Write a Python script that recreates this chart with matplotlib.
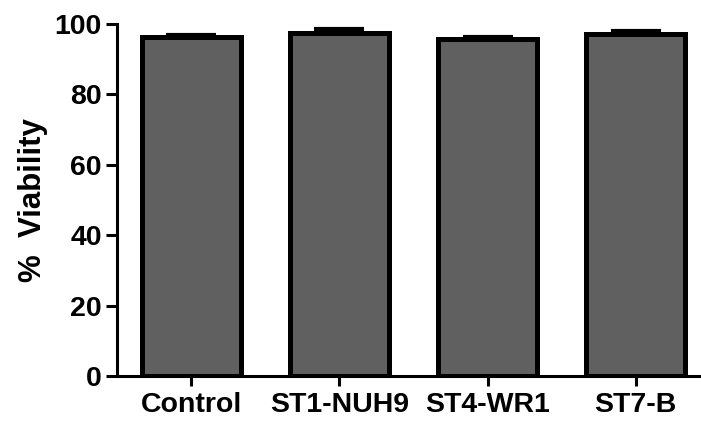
import matplotlib.pyplot as plt
import matplotlib as mpl

mpl.rcParams.update({'font.family': 'Liberation Sans', 'font.weight': 'bold', 'font.size': 20.5})

# values
strains = ['Control', 'ST1-NUH9', 'ST4-WR1', 'ST7-B']
viability = [96.2, 97.6, 95.8, 97.1]
sem = [0.6, 1.1, 0.5, 1.0]

fig = plt.figure(figsize=(7.01, 4.23), dpi=100)
ax = fig.add_axes([0.167, 0.111, 0.833, 0.832])

x = range(len(strains))
ax.bar(x, viability, width=0.67, color='#606060', edgecolor='black', linewidth=3.6, zorder=2)
ax.errorbar(x, viability, yerr=[[0] * len(sem), sem], fmt='none', ecolor='black',
            elinewidth=2.5, capsize=18, capthick=3, zorder=3)

ax.set_xlim(-0.5, 3.44)
ax.set_ylim(0, 100)
ax.set_yticks([0, 20, 40, 60, 80, 100])
ax.set_xticks(list(x))
ax.set_xticklabels(strains)

for side in ['top', 'right']:
    ax.spines[side].set_visible(False)
for side in ['left', 'bottom']:
    ax.spines[side].set_linewidth(2.2)

ax.tick_params(axis='y', direction='out', length=8, width=2.2, pad=3)
ax.tick_params(axis='x', direction='out', length=7.5, width=2.2, pad=4)

ax.set_ylabel('%  Viability', fontsize=22.5, fontweight='bold', labelpad=5)

plt.savefig('out.png', dpi=100)
